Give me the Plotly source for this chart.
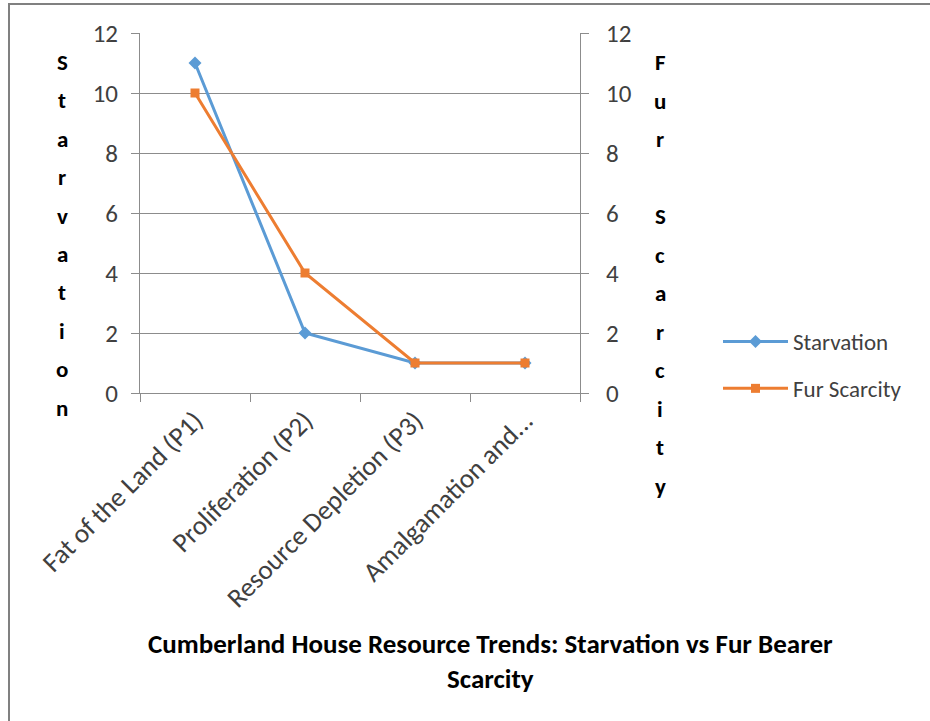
import plotly.graph_objects as go

categories = ["Fat of the Land (P1)", "Proliferation (P2)", "Resource Depletion (P3)", "Amalgamation and..."]
starvation = [11, 2, 1, 1]
fur_scarcity = [10, 4, 1, 1]
y_ticks = [0, 2, 4, 6, 8, 10, 12]
title_text = "Cumberland House Resource Trends: Starvation vs Fur Bearer<br>Scarcity"
left_title = "Starvation"
right_title = "Fur Scarcity"

FONT = "Carlito, Lato, 'Liberation Sans', sans-serif"
BLUE = "#5B9BD5"
ORANGE = "#ED7D31"
GRID = "#8c8c8c"

L, R, T, B = 140, 350, 33, 328
W, H = 930, 721
PW = W - L - R
PH = H - T - B


def px_x(x):
    return (x - L) / PW


def px_y(y):
    return (H - B - y) / PH


fig = go.Figure()
fig.add_trace(go.Scatter(
    x=categories, y=starvation, name="Starvation", mode="lines+markers",
    line=dict(color=BLUE, width=3),
    marker=dict(symbol="diamond", size=10, color=BLUE),
    legendgroup="a", yaxis="y",
))
fig.add_trace(go.Scatter(
    x=categories, y=fur_scarcity, name="Fur Scarcity", mode="lines+markers",
    line=dict(color=ORANGE, width=3),
    marker=dict(symbol="square", size=9, color=ORANGE),
    legendgroup="b", yaxis="y2",
))

annotations = []
# vertical stacked axis titles
for i, ch in enumerate(left_title):
    annotations.append(dict(
        text=f"<b>{ch}</b>", xref="paper", yref="paper",
        x=px_x(62), y=px_y(62 + 38.4 * i), showarrow=False,
        font=dict(family=FONT, size=23, color="#000"),
        xanchor="center", yanchor="middle",
    ))
for i, ch in enumerate(right_title):
    if ch == " ":
        continue
    annotations.append(dict(
        text=f"<b>{ch}</b>", xref="paper", yref="paper",
        x=px_x(660), y=px_y(62 + 38.5 * i), showarrow=False,
        font=dict(family=FONT, size=23, color="#000"),
        xanchor="center", yanchor="middle",
    ))
annotations.append(dict(
    text=f"<b>{title_text}</b>", xref="paper", yref="paper",
    x=px_x(490), y=px_y(661), showarrow=False,
    font=dict(family=FONT, size=27, color="#000"),
    xanchor="center", yanchor="middle", align="center",
))

axis_common = dict(
    range=[0, 12], tickvals=y_ticks, ticks="outside", ticklen=8,
    tickcolor=GRID, showline=True, linecolor=GRID, linewidth=1,
    tickfont=dict(family=FONT, size=25, color="#404040"),
    zeroline=False, fixedrange=True,
)

fig.update_layout(
    width=W, height=H,
    margin=dict(l=L, r=R, t=T, b=B),
    paper_bgcolor="white", plot_bgcolor="white",
    font=dict(family=FONT, color="#404040"),
    xaxis=dict(
        type="category", tickangle=-45, ticks="outside", ticklen=8,
        tickcolor=GRID, tickson="boundaries", showline=True, linecolor=GRID,
        showgrid=False, tickfont=dict(family=FONT, size=27, color="#404040"),
        range=[-0.5, 3.5], fixedrange=True,
    ),
    yaxis=dict(**axis_common, showgrid=True, gridcolor=GRID, gridwidth=1,
               ticklabelstandoff=8),
    yaxis2=dict(**axis_common, overlaying="y", side="right", showgrid=False,
                ticklabelstandoff=12),
    legend=dict(
        x=px_x(718), y=px_y(365), xanchor="left", yanchor="middle",
        font=dict(family=FONT, size=23, color="#404040"),
        tracegroupgap=14, itemwidth=65, bgcolor="rgba(0,0,0,0)",
    ),
    annotations=annotations,
    shapes=[
        dict(type="line", xref="paper", yref="paper",
             x0=px_x(8), x1=px_x(W), y0=px_y(4), y1=px_y(4),
             line=dict(color="#808080", width=2)),
        dict(type="line", xref="paper", yref="paper",
             x0=px_x(9), x1=px_x(9), y0=px_y(4), y1=px_y(H),
             line=dict(color="#808080", width=2)),
    ],
)

fig.write_html("out.html", config={"displayModeBar": False},
               post_script="document.body.style.margin='0';")
